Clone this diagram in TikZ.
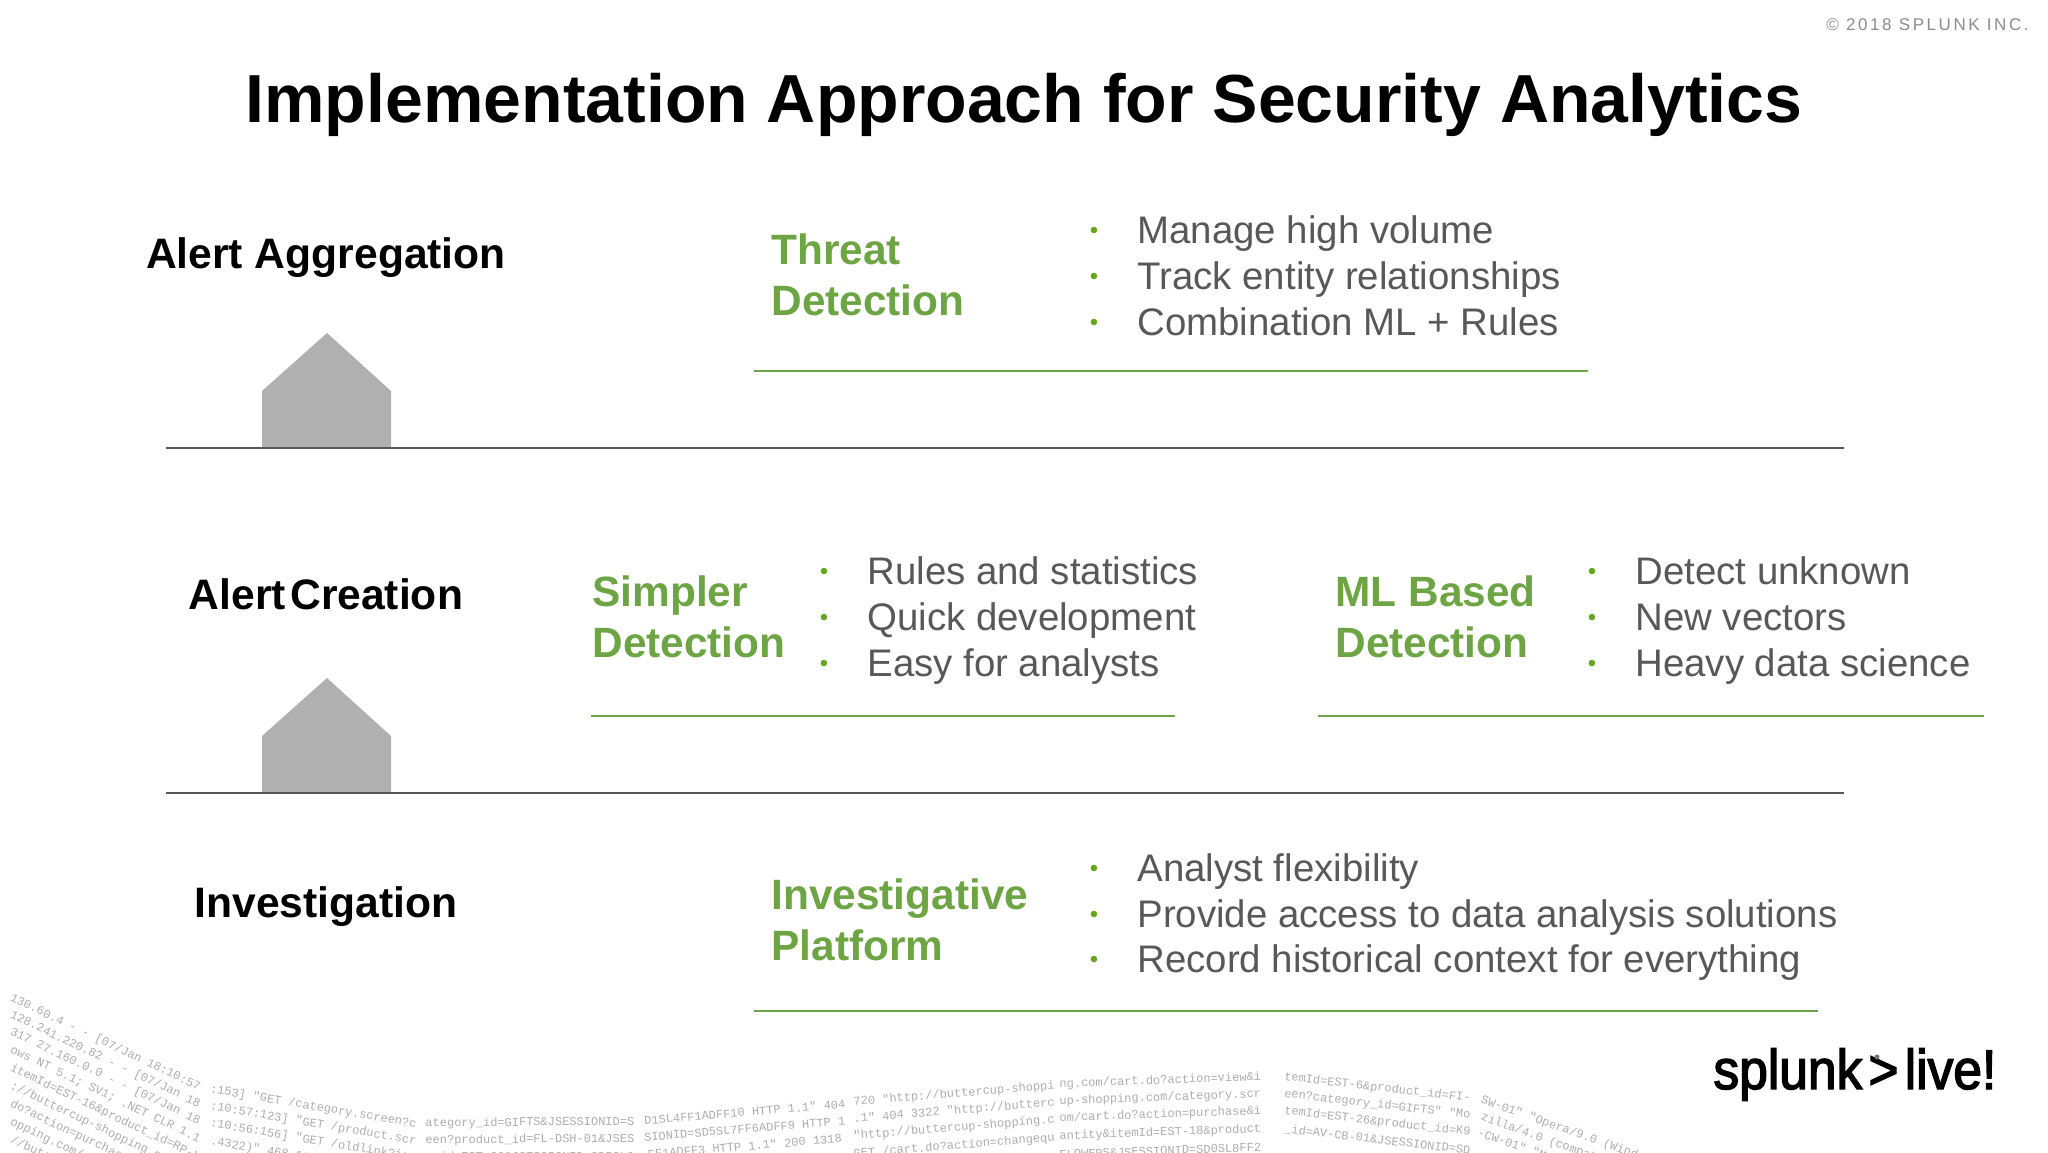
\documentclass[tikz,border=0pt]{standalone}
\usepackage{fontspec}
\setmainfont{Liberation Sans}
\newfontfamily\logfont{Liberation Mono}
\newfontfamily\logofont[FakeStretch=0.92,FakeBold=2.5]{Liberation Sans}
\definecolor{splunkgreen}{HTML}{6DA544}
\definecolor{bulletgreen}{HTML}{66A61E}
\definecolor{bodygrey}{HTML}{58585A}
\tikzset{
  pagetitle/.style={anchor=base,inner sep=0pt,font=\fontsize{34}{40}\selectfont\bfseries},
  rowlabel/.style={anchor=base,inner sep=0pt,font=\fontsize{21.3}{25}\selectfont\bfseries},
  headline/.style={anchor=base west,inner sep=0pt,text=splunkgreen,font=\fontsize{21.2}{25}\selectfont\bfseries},
  bodyline/.style={anchor=base west,inner sep=0pt,text=bodygrey,font=\fontsize{19.2}{22}\selectfont},
  dotmark/.style={anchor=center,inner sep=0pt,text=bulletgreen,font=\fontsize{12}{12}\selectfont},
  axisrule/.style={draw=bodygrey,line width=0.9pt},
  greenrule/.style={draw=splunkgreen,line width=0.9pt},
  house/.style={fill=black!31,draw=none},
  logtext/.style={sloped,inner sep=0pt,text=black!32,font=\logfont\fontsize{6}{7}\selectfont}
}
% one row of log text: vertical offset, then eight pieces along the curve
\newcommand{\logrow}[9]{
  \path[shift={(0,#1)}] (6,985) .. controls (200,1120) and (420,1130) .. (640,1120)
    node[logtext,pos=0.167] {#2} node[logtext,pos=0.5] {#3} node[logtext,pos=0.833] {#4};
  \path[shift={(0,#1)}] (640,1120) .. controls (860,1105) and (1100,1075) .. (1270,1080)
    node[logtext,pos=0.157] {#5} node[logtext,pos=0.47] {#6} node[logtext,pos=0.8] {#7};
  \path[shift={(0,#1)}] (1270,1080) .. controls (1420,1085) and (1540,1110) .. (1660,1170)
    node[logtext,pos=0.25] {#8} node[logtext,pos=0.75] {#9};
}
\begin{document}
\begin{tikzpicture}[x=0.5pt,y=-0.5pt]
  \path[use as bounding box] (0,0) rectangle (2048,1152);

  % Log text along the bottom edge
  \begin{scope}
    \clip (0,0) rectangle (2048,1152);
    \logrow{0}{130.60.4 - - [07/Jan 18:10:57}{:153] "GET /category.screen?c}{ategory\_id=GIFTS\&JSESSIONID=S}{D1SL4FF1ADFF10 HTTP 1.1" 404}{720 "http://buttercup-shoppi}{ng.com/cart.do?action=view\&i}{temId=EST-6\&product\_id=FI-}{SW-01" "Opera/9.0 (Windows}
    \logrow{17}{128.241.220.82 - - [07/Jan 18}{:10:57:123] "GET /product.scr}{een?product\_id=FL-DSH-01\&JSES}{SIONID=SD5SL7FF6ADFF9 HTTP 1}{.1" 404 3322 "http://butterc}{up-shopping.com/category.scr}{een?category\_id=GIFTS" "Mo}{zilla/4.0 (compatible; MSI}
    \logrow{34}{317 27.160.0.0 - - [07/Jan 18}{:10:56:156] "GET /oldlink?ite}{m\_id=EST-26\&JSESSIONID=SD5SL9}{FF1ADFF3 HTTP 1.1" 200 1318}{"http://buttercup-shopping.c}{om/cart.do?action=purchase\&i}{temId=EST-26\&product\_id=K9}{-CW-01" "Mozilla/4.0 (compa}
    \logrow{52}{ows NT 5.1; SV1; .NET CLR 1.1}{.4322)" 468 125.17.14.100 - -}{}{}{GET /cart.do?action=changequ}{antity\&itemId=EST-18\&product}{\_id=AV-CB-01\&JSESSIONID=SD}{}
    \logrow{70}{itemId=EST-16\&product\_id=RP-L}{}{}{}{}{FLOWERS\&JSESSIONID=SD0SL8FF2}{}{}
    \logrow{88}{://buttercup-shopping.com/old}{}{}{}{}{}{}{}
    \logrow{106}{do?action=purchase\&itemId=EST}{}{}{}{}{}{}{}
    \logrow{124}{opping.com/cart.do?action=pur}{}{}{}{}{}{}{}
    \logrow{142}{//buttercup-shopping.com/cart}{}{}{}{}{}{}{}
  \end{scope}

  % Copyright and title
  \node[anchor=base east,inner sep=0pt,text=black!45,font=\fontsize{8.5}{10}\selectfont\addfontfeature{LetterSpace=15}] (copyright) at (2029,30) {© 2018 SPLUNK INC.};
  \node[pagetitle] (title) at (1024,122) {Implementation Approach for Security Analytics};

  % Row labels
  \node[rowlabel] (aggregation) at (326,268) {Alert Aggregation};
  \node[rowlabel] (creation) at (326,609) {Alert\hspace{0.1em}Creation};
  \node[rowlabel] (investigation) at (326,917) {Investigation};

  % Row markers
  \fill[house] (262,448) -- (262,391) -- (327,333) -- (391,391) -- (391,448) -- cycle;
  \fill[house] (262,793) -- (262,736) -- (327,678) -- (391,736) -- (391,793) -- cycle;

  % Dark rules between the rows
  \coordinate (ruleAl) at (166,448);
  \coordinate (ruleAr) at (1844,448);
  \coordinate (ruleBl) at (166,793);
  \coordinate (ruleBr) at (1844,793);
  \draw[axisrule] (ruleAl) -- (ruleAr);
  \draw[axisrule] (ruleBl) -- (ruleBr);

  % Threat detection
  \node[headline] (threat1) at (771,264) {Threat};
  \node[headline] (threat2) at (771,315) {Detection};
  \foreach \ypos/\txt in {243/Manage high volume,289/Track entity relationships,335/{Combination ML + Rules}}{
    \node[dotmark] at (1094,\ypos-10) {•};
    \node[bodyline] at (1137,\ypos) {\txt};
  }
  \coordinate (threatl) at (754,371);
  \coordinate (threatr) at (1588,371);
  \draw[greenrule] (threatl) -- (threatr);

  % Simpler detection
  \node[headline] (simpler1) at (592,606) {Simpler};
  \node[headline] (simpler2) at (592,657) {Detection};
  \foreach \ypos/\txt in {584/Rules and statistics,630/Quick development,676/Easy for analysts}{
    \node[dotmark] at (824,\ypos-10) {•};
    \node[bodyline] at (867,\ypos) {\txt};
  }
  \coordinate (simplerl) at (591,716);
  \coordinate (simplerr) at (1175,716);
  \draw[greenrule] (simplerl) -- (simplerr);

  % ML based detection
  \node[headline] (ml1) at (1335,606) {ML Based};
  \node[headline] (ml2) at (1335,657) {Detection};
  \foreach \ypos/\txt in {584/Detect unknown,630/New vectors,676/Heavy data science}{
    \node[dotmark] at (1592,\ypos-10) {•};
    \node[bodyline] at (1635,\ypos) {\txt};
  }
  \coordinate (mll) at (1318,716);
  \coordinate (mlr) at (1984,716);
  \draw[greenrule] (mll) -- (mlr);

  % Investigative platform
  \node[headline] (platform1) at (771,909) {Investigative};
  \node[headline] (platform2) at (771,960) {Platform};
  \foreach \ypos/\txt in {881/Analyst flexibility,927/Provide access to data analysis solutions,972/Record historical context for everything}{
    \node[dotmark] at (1094,\ypos-10) {•};
    \node[bodyline] at (1137,\ypos) {\txt};
  }
  \coordinate (platforml) at (754,1011);
  \coordinate (platformr) at (1818,1011);
  \draw[greenrule] (platforml) -- (platformr);

  % Logo
  \node[anchor=base west,inner sep=0pt,font=\fontsize{28}{30}\logofont] (logo) at (1713,1089) {splunk\hspace{0.11em}>\hspace{0.11em}live!};
  \fill[black!55] (1877,1057) circle (2.5);
\end{tikzpicture}
\end{document}
